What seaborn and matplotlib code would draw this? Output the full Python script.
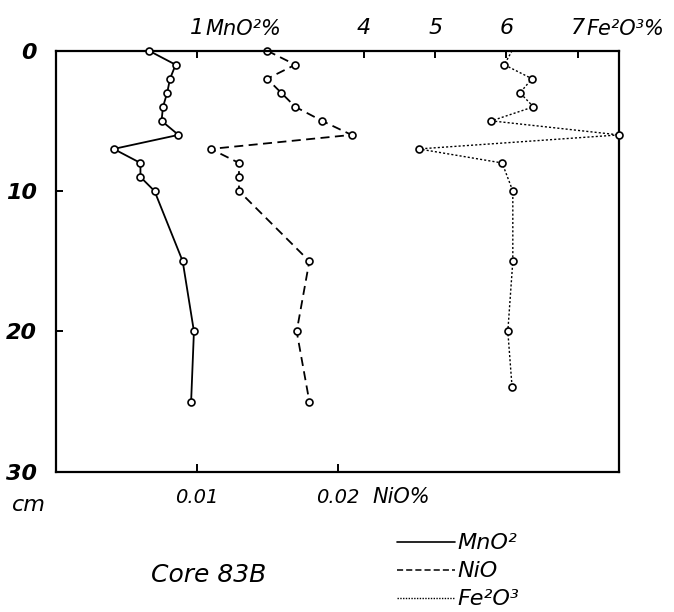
import matplotlib
matplotlib.use("Agg")
import matplotlib.pyplot as plt
import numpy as np
import pandas as pd
import seaborn as sns
from matplotlib.lines import Line2D

# ---- data ----
depth_mn = [0, 1, 2, 3, 4, 5, 6, 7, 8, 9, 10, 15, 20, 25]
mno2 = [0.66, 0.85, 0.81, 0.79, 0.76, 0.75, 0.87, 0.41, 0.60, 0.60, 0.70, 0.90, 0.98, 0.96]

depth_ni = [0, 1, 2, 3, 4, 5, 6, 7, 8, 9, 10, 15, 20, 25]
nio = [0.0150, 0.0170, 0.0150, 0.0160, 0.0170, 0.0189, 0.0210, 0.0110,
       0.0130, 0.0130, 0.0130, 0.0180, 0.0171, 0.0180]

depth_fe = [0, 1, 2, 3, 4, 5, 6, 7, 8, 10, 15, 20, 24]
fe2o3 = [6.08, 5.97, 6.36, 6.19, 6.38, 5.79, 7.58, 4.77, 5.94, 6.09, 6.09, 6.02, 6.08]

depth_ticks = [0, 10, 20, 30]
ni_ticks = [0.01, 0.02]
ni_tick_labels = ["0.01", "0.02"]
mn_ticks = [1]
mn_tick_labels = ["1"]
fe_ticks = [4, 5, 6, 7]
fe_tick_labels = ["4", "5", "6", "7"]

legend_labels = ["MnO²", "NiO", "Fe²O³"]

df_mn = pd.DataFrame({"depth": depth_mn, "value": mno2})
df_ni = pd.DataFrame({"depth": depth_ni, "value": nio})
df_fe = pd.DataFrame({"depth": depth_fe, "value": fe2o3})

sns.set_theme(style="white")
plt.rcParams["font.family"] = ["DejaVu Sans"]
plt.rcParams["text.color"] = "black"

W, H = 674, 612
fig = plt.figure(figsize=(W / 100, H / 100), dpi=100)
fig.patch.set_facecolor("white")
L, R, T, B = 56, 619, 50.7, 471.7
ax = fig.add_axes([L / W, 1 - B / H, (R - L) / W, (B - T) / H])
ax_mn = ax.twiny()
ax_fe = ax.twiny()

marker_kw = dict(marker="o", markersize=5, markerfacecolor="white",
                 markeredgecolor="black", markeredgewidth=1.2, clip_on=False)

sns.lineplot(data=df_ni, x="value", y="depth", sort=False, estimator=None,
             ax=ax, color="black", linewidth=1.3, linestyle=(0, (5, 3)), **marker_kw)
sns.lineplot(data=df_mn, x="value", y="depth", sort=False, estimator=None,
             ax=ax_mn, color="black", linewidth=1.3, **marker_kw)
sns.lineplot(data=df_fe, x="value", y="depth", sort=False, estimator=None,
             ax=ax_fe, color="black", linewidth=1.0, linestyle=(0, (1.5, 1.5)),
             markevery=list(range(1, len(depth_fe))), **marker_kw)

ax.set_xlim(0, 0.04)
ax_mn.set_xlim(0, 4.0)
ax_fe.set_xlim(-0.32, 7.58)
ax.set_ylim(30, 0)

for a in (ax, ax_mn, ax_fe):
    a.set_xlabel("")
    a.set_ylabel("")
    a.grid(False)

# frame on the main axes only
for s in ax.spines.values():
    s.set_visible(True)
    s.set_color("black")
    s.set_linewidth(1.6)
for a in (ax_mn, ax_fe):
    for s in a.spines.values():
        s.set_visible(False)

txt = dict(style="italic", color="black")

# depth axis
ax.set_yticks(depth_ticks)
ax.set_yticklabels([str(d) for d in depth_ticks], fontsize=16,
                   fontweight="bold", style="italic")
ax.tick_params(axis="y", direction="in", length=5, width=1.4, pad=14,
               left=True, right=False, colors="black")

# NiO axis (bottom)
ax.set_xticks(ni_ticks)
ax.set_xticklabels(ni_tick_labels, fontsize=14, style="italic")
ax.tick_params(axis="x", direction="in", length=6, width=1.4, pad=12,
               bottom=True, top=False, labeltop=False, colors="black")

# MnO2 axis (top)
ax_mn.set_xticks(mn_ticks)
ax_mn.set_xticklabels(mn_tick_labels, fontsize=16, style="italic")
ax_mn.tick_params(axis="x", direction="in", length=5, width=1.4, pad=9,
                  top=True, bottom=False, labeltop=True, labelbottom=False,
                  colors="black")

# Fe2O3 axis (top)
ax_fe.set_xticks(fe_ticks)
ax_fe.set_xticklabels(fe_tick_labels, fontsize=16, style="italic")
ax_fe.tick_params(axis="x", direction="in", length=5, width=1.4, pad=9,
                  top=True, bottom=False, labeltop=True, labelbottom=False,
                  colors="black")
for a in (ax_mn, ax_fe):
    a.tick_params(axis="y", left=False, right=False, labelleft=False, labelright=False)

# unit labels
fig.text(205 / W, 1 - 29 / H, "MnO²%", fontsize=15, ha="left", va="center", **txt)
fig.text(586 / W, 1 - 29 / H, "Fe²O³%", fontsize=15, ha="left", va="center", **txt)
fig.text(372 / W, 1 - 497 / H, "NiO%", fontsize=15, ha="left", va="center", **txt)
fig.text(29 / W, 1 - 505 / H, "cm", fontsize=16, ha="center", va="center", **txt)
fig.text(209 / W, 1 - 575 / H, "Core 83B", fontsize=18, ha="center", va="center", **txt)

# legend (drawn by hand like the original)
styles = [dict(linestyle="-", linewidth=1.2),
          dict(linestyle=(0, (4, 2)), linewidth=1.1),
          dict(linestyle=(0, (1, 1)), linewidth=1.0)]
ys = [542, 570, 598]
for lab, st, yy in zip(legend_labels, styles, ys):
    fig.add_artist(Line2D([397 / W, 455 / W], [1 - yy / H, 1 - yy / H],
                          color="black", transform=fig.transFigure, **st))
    fig.text(457 / W, 1 - (yy + 1) / H, lab, fontsize=16, ha="left",
             va="center", **txt)

fig.savefig("out.png", dpi=100, facecolor="white")
